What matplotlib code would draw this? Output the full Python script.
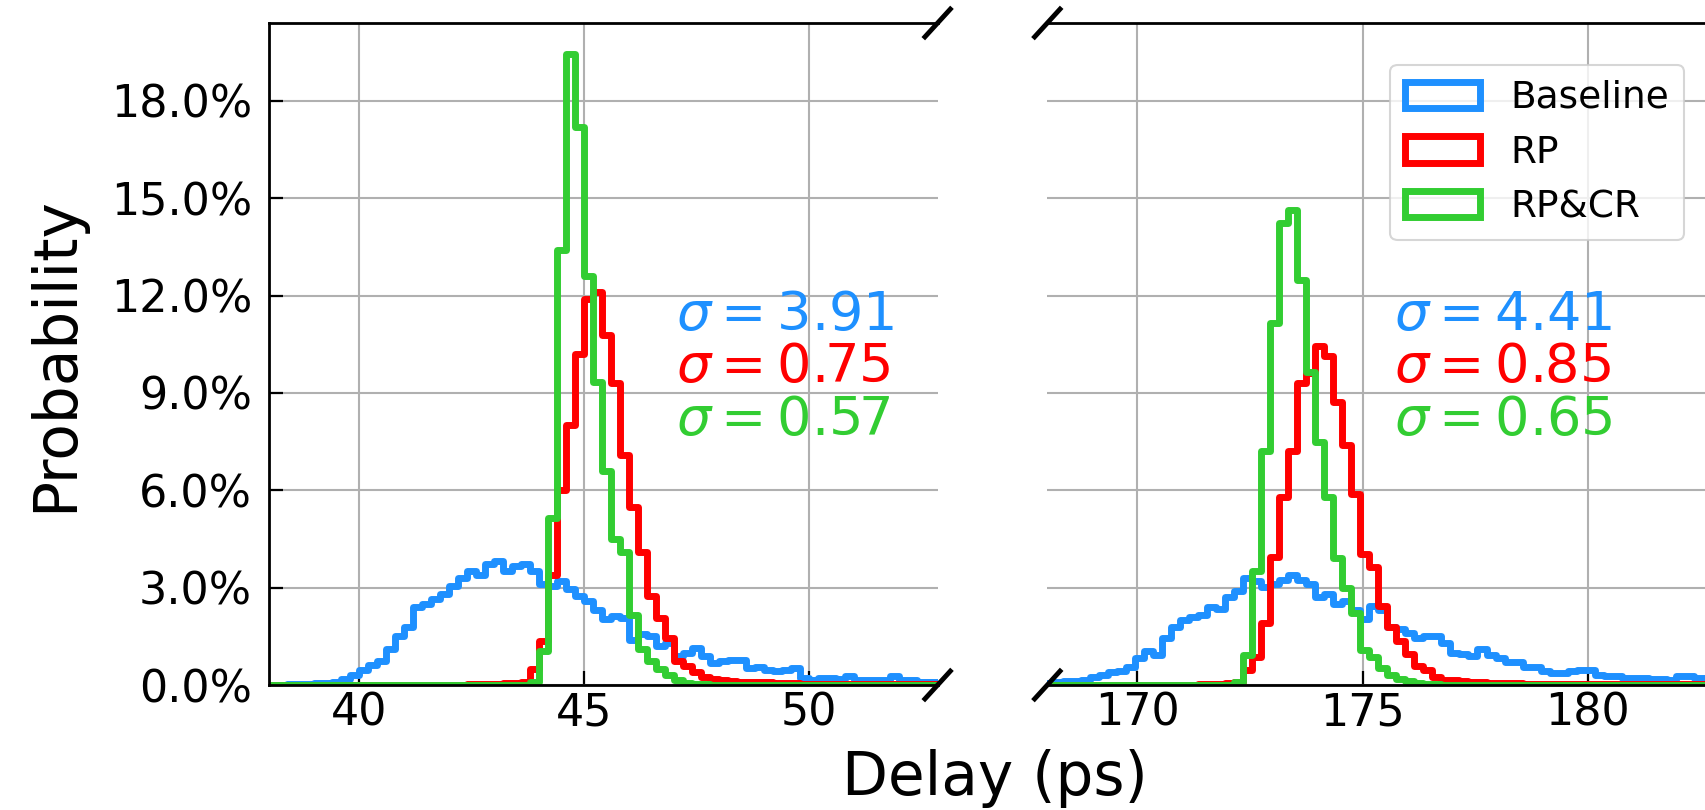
import numpy as np
import matplotlib
matplotlib.use('Agg')
import matplotlib.pyplot as plt
from matplotlib.ticker import PercentFormatter

## histogram bins (ps), both panels use 0.2 ps bins
bin_width = 0.2
left_start = 38.0
right_start = 167.95

## probability per bin in percent, left panel (first delay group)
baseline_left = [0.01, 0.01, 0.02, 0.02, 0.04, 0.07, 0.07, 0.10, 0.18, 0.30,
                 0.45, 0.62, 0.75, 1.12, 1.50, 1.78, 2.40, 2.50, 2.66, 2.82,
                 3.05, 3.29, 3.52, 3.40, 3.72, 3.83, 3.50, 3.66, 3.73, 3.50,
                 3.10, 3.05, 3.19, 2.96, 2.75, 2.60, 2.30, 2.04, 2.14, 2.06,
                 1.40, 1.57, 1.52, 1.20, 1.30, 0.89, 1.00, 1.15, 0.89, 0.68,
                 0.73, 0.78, 0.78, 0.52, 0.57, 0.47, 0.42, 0.45, 0.52, 0.21,
                 0.16, 0.23, 0.23, 0.19, 0.29, 0.16, 0.16, 0.16, 0.16, 0.29,
                 0.16, 0.16, 0.10, 0.10, 0.10]
rp_left = [0, 0, 0, 0, 0, 0, 0, 0, 0, 0,
           0, 0, 0, 0, 0, 0, 0, 0, 0, 0.01,
           0.01, 0.01, 0.02, 0.02, 0.03, 0.03, 0.05, 0.07, 0.10, 0.50,
           1.35, 3.40, 6.00, 8.00, 10.20, 11.90, 12.10, 10.80, 9.30, 7.10,
           5.50, 4.10, 2.75, 2.05, 1.45, 0.75, 0.60, 0.40, 0.26, 0.18,
           0.15, 0.13, 0.10, 0.10, 0.08, 0.08, 0.07, 0.06, 0.05, 0.04,
           0.03, 0.03, 0.02, 0.02, 0.02, 0.02, 0.02, 0.02, 0.02, 0.02,
           0.02, 0.02, 0.02, 0.02, 0.02]
rpcr_left = [0, 0, 0, 0, 0, 0, 0, 0, 0, 0,
             0, 0, 0, 0, 0, 0, 0, 0, 0, 0,
             0, 0, 0, 0, 0, 0, 0, 0, 0.01, 0.10,
             1.05, 5.15, 13.40, 19.45, 17.20, 12.60, 9.35, 6.60, 4.50, 4.10,
             2.15, 1.10, 0.75, 0.50, 0.30, 0.16, 0.07, 0.04, 0.02, 0.01,
             0.01, 0.01, 0, 0, 0, 0, 0, 0, 0, 0,
             0, 0, 0, 0, 0, 0, 0, 0, 0, 0,
             0, 0, 0, 0, 0]

## right panel (second delay group)
baseline_right = [0.05, 0.08, 0.12, 0.12, 0.14, 0.26, 0.30, 0.39, 0.42, 0.55,
                  0.84, 1.05, 0.94, 1.46, 1.80, 2.00, 2.09, 2.16, 2.40, 2.35,
                  2.70, 2.90, 3.30, 3.19, 3.03, 3.10, 3.24, 3.40, 3.24, 3.10,
                  2.70, 2.82, 2.50, 2.60, 2.30, 2.04, 2.45, 2.30, 1.78, 1.72,
                  1.60, 1.45, 1.52, 1.50, 1.30, 1.00, 0.95, 0.89, 1.10, 0.94,
                  0.84, 0.70, 0.70, 0.57, 0.57, 0.42, 0.37, 0.37, 0.44, 0.47,
                  0.47, 0.31, 0.28, 0.28, 0.23, 0.23, 0.23, 0.18, 0.18, 0.16,
                  0.29, 0.29, 0.21, 0.21, 0.21]
rp_right = [0, 0, 0, 0, 0, 0, 0, 0, 0, 0,
            0, 0, 0, 0, 0, 0, 0.01, 0.02, 0.02, 0.03,
            0.05, 0.10, 0.47, 0.85, 1.90, 3.95, 5.80, 7.20, 9.30, 9.60,
            10.45, 10.15, 8.73, 7.40, 5.90, 4.05, 3.65, 2.45, 1.80, 1.37,
            0.96, 0.60, 0.45, 0.26, 0.16, 0.14, 0.12, 0.10, 0.08, 0.07,
            0.07, 0.06, 0.05, 0.04, 0.03, 0.02, 0.02, 0.02, 0.02, 0.02,
            0.02, 0.02, 0.02, 0.02, 0.02, 0.02, 0.02, 0.02, 0.02, 0.02,
            0.02, 0.02, 0.02, 0.02, 0.02]
rpcr_right = [0, 0, 0, 0, 0, 0, 0, 0, 0, 0,
              0, 0, 0, 0, 0, 0, 0, 0, 0, 0,
              0.01, 0.10, 0.94, 3.50, 7.20, 11.15, 14.23, 14.65, 12.48, 9.65,
              7.50, 5.80, 3.91, 2.98, 2.21, 1.08, 0.85, 0.52, 0.31, 0.20,
              0.12, 0.07, 0.04, 0.02, 0.01, 0, 0, 0, 0, 0,
              0, 0, 0, 0, 0, 0, 0, 0, 0, 0,
              0, 0, 0, 0, 0, 0, 0, 0, 0, 0,
              0, 0, 0, 0, 0]

labels = ['Baseline', 'RP', 'RP&CR']
colors = ['#1E90FF', '#FF0000', '#32CD32']
sigma_left = [3.91, 0.75, 0.57]
sigma_right = [4.41, 0.85, 0.65]
left_xlim = (38.0, 52.85)
right_xlim = (168.0, 182.85)
left_xticks = [40, 45, 50]
right_xticks = [170, 175, 180]
y_ticks = [0, 3, 6, 9, 12, 15, 18]
y_top = 20.4

fig = plt.figure(figsize=(17.06, 8.10), dpi=100)
ax1 = fig.add_axes([0.1575, 0.1543, 0.3921, 0.8173])
ax2 = fig.add_axes([0.6139, 0.1543, 0.3921, 0.8173])


## draw one panel: step histograms, grid, sigma notes
def panel(ax, start, series, sigmas, xlim, xticks, text_x):
    n = len(series[0])
    edges = start + bin_width * np.arange(n + 1)
    centers = edges[:-1] + bin_width / 2
    for vals, c, lab in zip(series, colors, labels):
        ax.hist(centers, bins=edges, weights=vals, histtype='step',
                color=c, lw=5.0, label=lab, joinstyle='round')
    ax.set_xlim(*xlim)
    ax.set_ylim(0, y_top)
    ax.set_xticks(xticks)
    ax.set_yticks(y_ticks)
    ax.yaxis.set_major_formatter(PercentFormatter(decimals=1))
    ax.set_axisbelow(True)
    ax.grid(True, color='#b0b0b0', lw=1.5)
    for sp in ax.spines.values():
        sp.set_linewidth(2)
    ax.tick_params(direction='in', length=10, width=1.6, labelsize=32,
                   top=False, right=False, pad=5)
    ax.tick_params(axis='y', pad=12)
    for s, c, ty in zip(sigmas, colors, [0.536, 0.458, 0.378]):
        ax.text(text_x, ty, r'$\sigma = %.2f$' % s, color=c, fontsize=39,
                transform=ax.transAxes, va='baseline', ha='left')


panel(ax1, left_start, [baseline_left, rp_left, rpcr_left], sigma_left,
      left_xlim, left_xticks, 0.609)
panel(ax2, right_start, [baseline_right, rp_right, rpcr_right], sigma_right,
      right_xlim, right_xticks, 0.518)

## broken axis look
ax1.spines['right'].set_visible(False)
ax2.spines['left'].set_visible(False)
ax2.tick_params(left=False, labelleft=False)

d, dy = 0.019, 0.021
kw = dict(transform=ax1.transAxes, color='k', clip_on=False, lw=3.5)
ax1.plot((1 - d, 1 + d), (-dy, dy), **kw)
ax1.plot((1 - d, 1 + d), (1 - dy, 1 + dy), **kw)
kw.update(transform=ax2.transAxes)
ax2.plot((-d, d), (-dy, dy), **kw)
ax2.plot((-d, d), (1 - dy, 1 + dy), **kw)

ax1.set_ylabel('Probability', fontsize=43)
ax1.yaxis.set_label_coords(-0.274, 0.5)
fig.text(0.583, 0.0185, 'Delay (ps)', fontsize=43, ha='center', va='baseline')

leg = ax2.legend(loc='upper right', bbox_to_anchor=(0.952, 0.9366),
                 borderaxespad=0, fontsize=27)
leg.get_frame().set_linewidth(1.5)

fig.savefig('out.png', dpi=100)
